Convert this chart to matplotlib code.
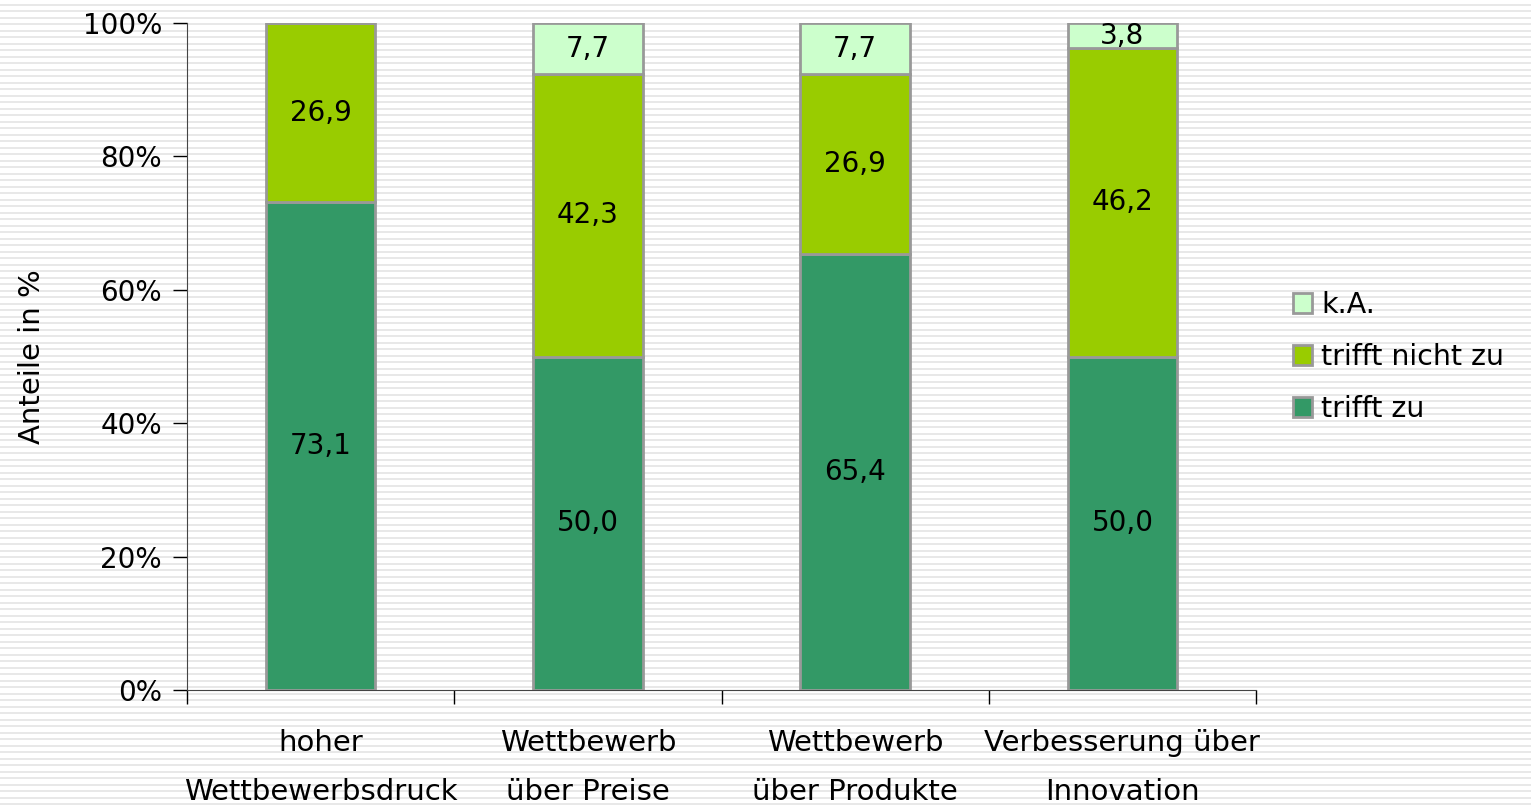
import numpy as np
import matplotlib.pyplot as plt

# Daten
kategorien = ['hoher\nWettbewerbsdruck', 'Wettbewerb\nüber Preise',
              'Wettbewerb\nüber Produkte', 'Verbesserung über\nInnovation']
trifft_zu = [73.1, 50.0, 65.4, 50.0]
trifft_nicht_zu = [26.9, 42.3, 26.9, 46.2]
keine_angabe = [0.0, 7.7, 7.7, 3.8]

farben = ['#339966', '#99CC00', '#CCFFCC']
rand = '#999999'

plt.rcParams['font.family'] = ['DejaVu Sans']

fig = plt.figure(figsize=(15.31, 8.06), dpi=100)
fig.patch.set_facecolor('white')

# gestreifter Hintergrund
bg = fig.add_axes([0, 0, 1, 1], zorder=-10)
bg.set_xlim(0, 1)
bg.set_ylim(0, 806)
for yy in np.arange(2, 806, 6.5):
    bg.axhline(yy, color='#e6e6e6', lw=1.3)
bg.axis('off')

ax = fig.add_axes([187/1531, 1-690/806, (1256-187)/1531, (690-23)/806])
ax.set_facecolor('none')

x = np.arange(len(kategorien)) + 0.5
b = 0.41
unten = np.zeros(len(kategorien))
namen = ['trifft zu', 'trifft nicht zu', 'k.A.']
for werte, farbe, name in zip([trifft_zu, trifft_nicht_zu, keine_angabe], farben, namen):
    werte = np.array(werte)
    ax.bar(x, werte, b, bottom=unten, color=farbe, edgecolor=rand,
           linewidth=2, label=name, zorder=3)
    for xi, u, w in zip(x, unten, werte):
        if w > 0:
            ax.text(xi, u + w/2, f'{w:.1f}'.replace('.', ','), ha='center',
                    va='center', fontsize=20, zorder=4)
    unten = unten + werte

ax.set_xlim(0, 4)
ax.set_ylim(0, 100)
ax.set_yticks(np.arange(0, 101, 20))
ax.set_yticklabels([f'{v}%' for v in range(0, 101, 20)], fontsize=20)
ax.set_xticks(np.arange(0, 5))
ax.set_xticklabels([])
ax.set_xticks(x, minor=True)
ax.set_xticklabels(kategorien, minor=True, fontsize=21, linespacing=1.95)
ax.tick_params(axis='x', which='minor', length=0, pad=28)
ax.tick_params(axis='x', which='major', length=10, direction='out', width=1)
ax.tick_params(axis='y', length=10, direction='out', width=1, pad=8)
for s in ['top', 'right']:
    ax.spines[s].set_visible(False)
ax.spines['left'].set_color('#444444')
ax.spines['bottom'].set_color('#444444')
ax.set_ylabel('Anteile in %', fontsize=21)
ax.yaxis.set_label_coords(-0.132, 0.5)

handles, labels = ax.get_legend_handles_labels()
leg = fig.legend(handles[::-1], labels[::-1], loc='center left',
                 bbox_to_anchor=(1284/1531, 1-357/806), frameon=False,
                 fontsize=20.5, handlelength=0.7, handleheight=0.7,
                 handletextpad=0.3, labelspacing=0.85, borderaxespad=0,
                 borderpad=0.3)

fig.savefig('out.png', dpi=100)
